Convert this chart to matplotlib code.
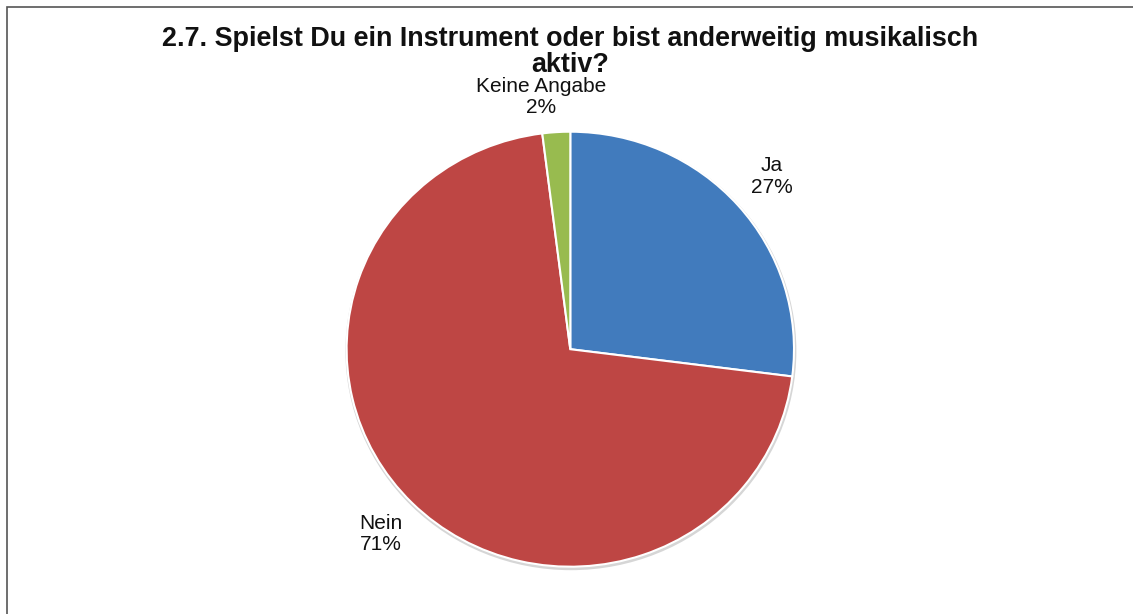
import matplotlib
matplotlib.use("Agg")
import matplotlib.pyplot as plt
from matplotlib.patches import Rectangle, Ellipse

plt.rcParams['font.family'] = ['Liberation Sans', 'DejaVu Sans']

title = "2.7. Spielst Du ein Instrument oder bist anderweitig musikalisch\naktiv?"
categories = ["Ja", "Nein", "Keine Angabe"]
values = [27, 71, 2]
colors = ["#417BBD", "#BE4644", "#98BB4F"]

W, H = 1133, 614
fig = plt.figure(figsize=(W / 100, H / 100), dpi=100)

# axes centred on the pie; slightly squashed vertically
cx, cy = 570.3, 349.2
half_w, half_h = 300, 300 * 217.5 / 223.7
ax = fig.add_axes([(cx - half_w) / W, (H - cy - half_h) / H, 2 * half_w / W, 2 * half_h / H])

radius = 223.7 / half_w

# soft rim shadow
ax.add_patch(Ellipse((0.002, -0.006), 2 * radius * 1.008, 2 * radius * 1.008,
                     facecolor='#d6d6d6', edgecolor='none', zorder=0))

labels = [f"{c}\n{v}%" for c, v in zip(categories, values)]
wedges, texts = ax.pie(values, colors=colors, startangle=90, counterclock=False,
                       radius=radius, labels=labels, labeldistance=1.2,
                       wedgeprops=dict(edgecolor='white', linewidth=1.5),
                       textprops=dict(fontsize=15, color='#111111'))
ax.set_xlim(-1, 1)
ax.set_ylim(-1, 1)
ax.set_aspect('auto')
ax.axis('off')

for t in texts:
    t.set_ha('center')
    t.set_va('center')
    t.set_linespacing(1.15)
texts[2].set_position((-29 / half_w, 252 / half_h))

fig.text(cx / W, 1 - 52 / H, title, ha='center', va='center', fontsize=19.4,
         fontweight='bold', linespacing=1.04, color='#111111')

# outer frame, running off the right and bottom edges
fig.add_artist(Rectangle((7 / W, -0.1), 1.2, 1 - 7 / H + 0.1, transform=fig.transFigure,
                         fill=False, edgecolor='#555555', linewidth=1.2))

fig.savefig("out.png", dpi=100, facecolor='white')
